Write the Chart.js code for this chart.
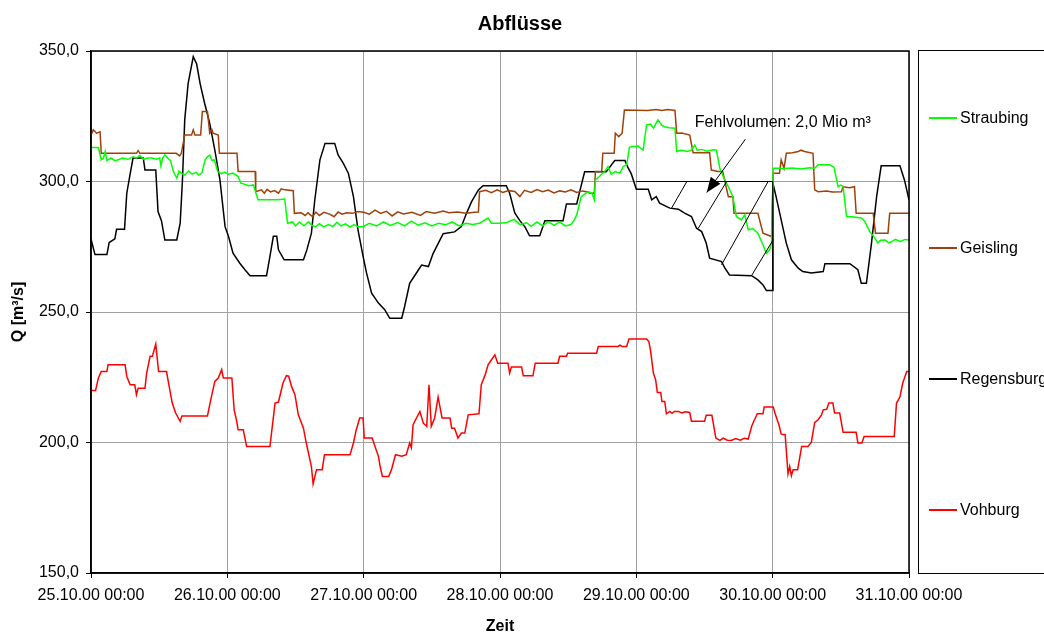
<!DOCTYPE html>
<html>
<head>
<meta charset="utf-8">
<style>
  body { margin: 0; background: #fff; }
  canvas { display: block; }
</style>
</head>
<body>
<canvas id="chart" width="1044" height="633"></canvas>

<script src="https://cdn.jsdelivr.net/npm/chart.js@4.4.0/dist/chart.umd.min.js"></script>
<script>
  // tick labels of the time axis, one per day (hours since 25.10.00 00:00)
  const dayLabels = ['25.10.00 00:00', '26.10.00 00:00', '27.10.00 00:00', '28.10.00 00:00',
    '29.10.00 00:00', '30.10.00 00:00', '31.10.00 00:00']

  const seriesNames = ['Straubing', 'Geisling', 'Regensburg', 'Vohburg']
  const seriesColors = ['#00ff00', '#a0400a', '#000000', '#ff0000']

  // [hour, Q in m³/s]
  const straubing = [[0,313],[1.3,313],[1.8,308.3],[2.2,309],[2.5,311.5],[2.8,308],[3.5,309],[4.2,308],[4.8,308.3],
    [5.5,309],[6.5,308.5],[7.4,309.5],[8,309],[8.6,310],[9.3,308.5],[10,309],[10.7,309],[11.5,308.5],[12.1,309],
    [12.3,306],[12.6,309],[13,310.2],[13.5,309],[14,308],[14.5,303.8],[15.1,301.3],[15.5,304],[15.9,303.2],
    [16.5,302.5],[17.2,304],[17.8,302.8],[18.5,303.5],[19,302.5],[19.5,303.2],[20.1,308.3],[20.5,309.5],
    [20.9,310.2],[21.3,308],[21.7,308.3],[22.3,303.8],[23,303],[23.5,303.6],[24.2,302.8],[25,303.2],[25.5,302.5],
    [25.9,301.9],[26.4,299.3],[27,299],[27.8,298.4],[28.6,298.7],[29,295.8],[29.4,293],[32.9,293],[34.1,293.3],
    [34.6,284],[35.5,284.5],[36,283],[36.7,284.5],[37.5,283],[38.3,284.6],[38.8,283.4],[39.5,282.6],[40.2,283.8],
    [41,282.6],[41.8,283.5],[42.6,282.8],[43.3,284.4],[44,283],[44.8,283.8],[45.6,282.5],[46.3,283.5],[47,282.7],
    [47.9,282.7],[49,284],[50.3,283],[51.5,284.5],[52.7,283.2],[54,284.3],[55.2,283],[56.4,284.8],[57.6,283.3],
    [58.8,284.2],[60,283],[61.2,284],[62.4,283.4],[63.6,284.5],[64.8,283],[66,284],[67.2,283.5],[68.4,284],
    [69.9,286],[70.5,284],[72,284],[73.2,284.3],[74.5,285.5],[75.5,283.5],[76.7,284.2],[77.5,282.8],[78.5,284.5],
    [79.5,283],[80.5,284.6],[81.5,283.2],[82.5,284.5],[83.5,283],[84.5,283.5],[85,285],[85.5,287.2],[86.3,294.2],
    [87.5,296.1],[88.2,295.5],[88.6,293],[88.8,300.6],[89.5,301.9],[90.4,303.8],[91,305.7],[91.6,302.7],
    [92.3,303.8],[93.1,303.2],[93.7,305.7],[94.3,306.4],[94.8,313.2],[95.5,313.4],[96.3,313.6],[97.2,312],
    [97.8,321.7],[98.5,322],[99,320.5],[99.8,323.6],[100.5,321.5],[101,321],[101.8,320.6],[102.8,320.4],
    [103.1,311.5],[104,312],[105,311.5],[105.7,312.1],[106.3,314],[106.7,312],[107.5,312.3],[108.5,311.6],
    [109.5,312.2],[110.1,312],[110.7,305.1],[111.3,301.9],[112.2,298],[113,294.2],[113.6,286.6],[114.5,285.3],
    [115.1,287.2],[115.7,281.5],[116.5,282],[117.4,280.2],[118.3,275.7],[118.9,272.5],[119.5,274],[119.8,276.4],
    [120.1,305.1],[121,305.1],[122,305],[123.5,305.2],[125,304.8],[126.5,305.3],[127.4,305.1],[128,306.4],
    [130,306.4],[130.8,305.5],[131.5,298],[132,298.6],[132.4,298.2],[133,286.6],[134,286.5],[135.6,286],
    [136.2,284.8],[137.1,280.8],[138,278.3],[138.5,276.4],[139,277.5],[139.8,277.6],[140.4,276.5],[140.9,276.9],
    [141.6,277.8],[142.5,277],[143.3,277.8],[144,277.6]]

  const geisling = [[0,317.8],[0.4,319.8],[1,318.5],[1.6,319],[1.8,310.8],[8,310.8],[8.3,311.8],[8.6,310.8],
    [15,310.8],[15.6,309.8],[15.9,310.8],[16.5,317.8],[17.7,317.8],[18,319.8],[18.3,317.8],[19.3,317.8],
    [19.6,326.8],[20.5,326.8],[20.9,318.5],[21.3,319.8],[21.5,318.5],[22.4,317.8],[22.6,310.8],[25.7,310.8],
    [25.9,303.8],[28.9,303.8],[29,296.1],[30,296.8],[30.5,295.5],[31,297],[31.6,296],[32.3,296.5],[33,295.5],
    [33.5,297.2],[34.1,296.8],[35.6,296.5],[35.8,287.8],[37,288],[37.7,287],[38.2,288],[39,286.5],[39.6,288.3],
    [40.2,287],[41,288.2],[42,287.5],[42.8,286.5],[43.5,288.3],[44.2,287.5],[45,288],[46,287.8],[47,288.5],
    [48,288.2],[49,287.5],[50,289],[51,287.8],[52,288.6],[53,286.8],[54,288.4],[55,287.6],[56.5,288.2],[58,287],
    [59,288.5],[60.5,287.8],[62,288.7],[63,288],[64.5,288.3],[66,287.8],[67.5,288.2],[68.2,288.3],[68.4,296.1],
    [69.5,296.6],[70.5,295.7],[71.5,296.8],[72.5,295.8],[73.5,296.5],[74.6,296.2],[75.5,294.2],[76.3,296.6],
    [77.5,295.8],[78.5,296.9],[79.5,296.1],[80.5,296.7],[81.5,295.6],[82.5,296.4],[83.5,296],[84.5,296.8],
    [85.5,295.8],[86.5,296.4],[87.5,296],[87.8,295.5],[88.6,295.5],[88.8,303.8],[89.9,303.8],[90.1,310.8],
    [92.1,310.8],[92.3,318.5],[92.9,317.2],[93.5,318.5],[93.9,327.4],[96,327.3],[98,327.2],[99.5,327.6],
    [100.5,327.2],[101.5,327.6],[102.8,327.2],[103.1,318.5],[104,318.6],[105.4,317.8],[106,311],[108.9,311],
    [109.2,304.4],[110.4,303.8],[111.2,303.8],[112.2,294.2],[113,294.2],[113.2,287.8],[117.4,287.8],
    [118.3,280.2],[119.8,278.9],[120.1,303.2],[121.2,303.2],[121.5,308.3],[122,305],[122.4,310.8],[123.5,311],
    [124.5,311.5],[125,312],[125.6,311.5],[127.1,310.8],[127.4,296.8],[128,296.1],[129.5,296.4],[130.5,296],
    [132.1,296.1],[132.4,298],[133.5,297.6],[134.4,298],[134.7,287.8],[137.7,287.8],[138.1,280.2],[140.3,280.2],
    [140.6,287.8],[144,287.8]]

  const regensburg = [[0,278],[0.7,272],[2.8,272],[3.2,276.6],[4.2,278],[4.5,281.7],[5.9,281.7],[6.3,295.5],
    [6.9,303],[7.4,309],[9.2,309],[9.5,304.4],[11.4,304.4],[11.8,288.5],[12.4,285],[13,277.6],[15.1,277.6],
    [15.7,284],[16.1,300.6],[16.5,323.6],[17.1,337.6],[18,347.8],[18.6,345],[19.2,337.6],[20,330],[20.9,322.3],
    [21.8,312],[22.7,300.6],[23.6,282.7],[24.2,279],[25,272.5],[26.2,268.7],[27.1,266.2],[28,263.9],[30.9,263.9],
    [31.5,271.3],[32.1,279],[32.7,279],[33,273.8],[34,270],[37.4,270],[38,273.8],[38.8,280.2],[39.4,293],
    [40.3,308.3],[41.2,314.6],[42.9,314.6],[43.5,310.2],[44.4,307],[45.3,303.2],[46.2,294.2],[47,281.5],
    [47.9,271.3],[48.5,265],[49.4,257.2],[50.6,253.4],[51.7,250.9],[52.6,247.6],[54.7,247.6],[55.2,252],
    [56.1,261],[57.6,266],[58.2,268],[59.4,267.4],[60.2,272.3],[61.1,276.2],[62,280],[64,280.7],[65.2,282.7],
    [66.1,287.8],[67,292.3],[68.2,296.8],[69,298.4],[73.1,298.4],[73.7,295.5],[74.6,288],[75.5,285],
    [76.4,282.6],[77.2,279.2],[79,279.2],[79.9,285],[83.1,285],[83.7,291.4],[85.5,291.4],[86.3,298.5],
    [86.9,303.7],[90.7,303.7],[92.2,308],[94,308],[94.6,305],[95.1,303],[96,297],[98.1,297],[98.7,293],
    [99.5,294.2],[100.1,291.7],[101.9,289.8],[103.4,289.4],[104.5,287.9],[105.7,286.6],[106.6,282.1],
    [107.5,280.8],[108.3,276.4],[108.9,270.6],[111,269.3],[111.6,266.8],[112.4,264.2],[116.3,263.9],
    [117.4,262.3],[118.3,260.4],[118.9,258.2],[119.9,258.2],[120.05,299.3],[120.6,294.2],[121.5,285.3],
    [122.4,276.4],[123.3,270],[124.5,266.8],[125.3,265.5],[126.8,264.9],[128.9,265.5],[129.2,268.5],
    [133.6,268.5],[135,266.2],[135.6,261],[136.5,261],[137.4,276.4],[138.3,294.2],[139.1,306],[142.4,306],
    [143.2,300.6],[144,293]]

  const vohburg = [[0,219.9],[0.8,219.9],[1.3,224.7],[1.8,227.2],[2.8,227.2],[3,229.8],[6,229.8],[6.3,225.3],
    [6.9,222.1],[7.7,222.1],[8,218.3],[8.3,220.8],[9.5,220.8],[9.8,226.6],[10.4,233],[10.8,233],[11.4,237.7],
    [11.9,227.2],[13.3,227.2],[13.6,223.4],[14.3,215.1],[14.9,211.3],[15.7,208.1],[16,210.2],[20.5,210.2],
    [21.2,217.6],[21.8,223.4],[22.4,224.7],[23,227.9],[23.3,224.7],[24.8,224.7],[25.2,212.5],[25.6,208.7],
    [25.9,204.9],[26.8,204.9],[27.4,198.5],[31.5,198.5],[32.4,215.1],[33,215.5],[33.8,222.8],[34.4,225.6],
    [34.8,225.4],[35.3,221.5],[35.9,218.3],[36.5,210.6],[37.4,205.5],[37.9,199.8],[38.8,190.8],[39.1,184.1],
    [39.7,189.6],[40.7,189.6],[41.1,195.3],[45.6,195.3],[46.2,199.8],[46.7,204.9],[47.3,209.4],[47.9,209.4],
    [48.1,201.7],[49.5,201.7],[50,198.5],[50.6,194.7],[50.9,190.8],[51.3,187],[52.4,187],[52.9,189.6],
    [53.6,195.3],[54.7,194.7],[55.5,195.3],[56.1,199.8],[56.4,198],[56.7,206.8],[57.3,209.4],[57.9,211.9],
    [58.5,207.4],[59.1,206.2],[59.5,222.1],[59.9,206.2],[60.5,209.4],[61.1,217.4],[61.8,209.4],[63.2,209.4],
    [63.5,205.5],[64,205.5],[64.6,201.7],[65.2,203.6],[65.8,203.6],[66.4,210.6],[68.3,211],[68.7,222.1],
    [69.4,226],[69.9,229.8],[70.5,231.7],[71.1,233.6],[71.6,230.4],[73.4,230.4],[73.7,226.6],[74,228.9],
    [75.8,228.9],[76.1,225.6],[77.8,225.6],[78.2,230.4],[82.2,230.4],[82.5,233],[83.7,233],[83.9,234.2],
    [89,234.2],[89.3,236.8],[92.8,236.8],[93.1,237.3],[93.5,236.8],[94.3,236.8],[94.7,239.7],[97.8,239.7],
    [98.2,238.7],[98.5,235.3],[99,226.6],[99.4,224],[99.7,219.2],[100.3,219.2],[100.5,215.7],[101,215.7],
    [101.3,211],[101.9,211.9],[102.3,211.2],[102.7,211.9],[103.4,211.9],[104,211.3],[104.6,211.8],[105.4,211.5],
    [105.7,208.1],[108,208.1],[108.3,210.4],[109.3,210.4],[110,201.7],[110.7,200.8],[111.3,201.7],[112,200.9],
    [112.7,200.8],[113.5,201.5],[114.3,200.9],[115,201.6],[115.7,201.3],[116.3,206.2],[116.8,208.7],[117.3,211],
    [118.3,211],[118.5,213.6],[120.1,213.6],[120.5,210.6],[121.1,206.8],[121.5,203.2],[122.2,203],[122.7,188],
    [123,190.8],[123.3,187.3],[123.6,189.6],[124.4,189.6],[125.1,198.5],[126.2,198.5],[126.8,200],[127.4,207.7],
    [128,208.7],[128.6,210.6],[128.9,212.5],[129.5,212.7],[129.9,215.1],[130.6,215.1],[130.9,211.3],
    [131.8,211.3],[132.4,203.9],[134.7,203.9],[135,199.8],[135.7,199.8],[136.1,202.3],[141.4,202.3],
    [141.8,215.1],[142.4,217.4],[142.9,222.8],[143.6,227.2],[144,227.2]]

  const allSeries = [straubing, geisling, regensburg, vohburg]

  Chart.defaults.font.family = "'Liberation Sans', Arial, sans-serif"
  Chart.defaults.font.size = 16
  Chart.defaults.color = '#000'

  // frame, title, legend box and the "Fehlvolumen" annotation
  const extras = {
    id: 'extras',
    afterDatasetsDraw(chart) {
      const ctx = chart.ctx
      const x = chart.scales.x
      const y = chart.scales.y
      const px = h => x.getPixelForValue(h)
      const py = v => y.getPixelForValue(v)

      ctx.save()
      ctx.strokeStyle = '#000'
      ctx.lineWidth = 1
      ctx.beginPath()
      ctx.moveTo(px(96), py(300))
      ctx.lineTo(px(120), py(300))
      ctx.lineTo(px(120), py(258.2))
      const hatch = [[102.2, 289.8, 104.9, 300], [106.9, 282.1, 111.9, 300],
        [111, 268.1, 119.2, 300], [116.3, 264, 120.1, 277.7]]
      hatch.forEach(l => {
        ctx.moveTo(px(l[0]), py(l[1]))
        ctx.lineTo(px(l[2]), py(l[3]))
      })
      // arrow shaft
      const ax0 = px(115.2), ay0 = py(316.2), ax1 = px(108.4), ay1 = py(295.8)
      ctx.moveTo(ax0, ay0)
      ctx.lineTo(ax1, ay1)
      ctx.stroke()
      const ang = Math.atan2(ay1 - ay0, ax1 - ax0)
      ctx.fillStyle = '#000'
      ctx.beginPath()
      ctx.moveTo(ax1, ay1)
      ctx.lineTo(ax1 - 15 * Math.cos(ang) + 6 * Math.sin(ang), ay1 - 15 * Math.sin(ang) - 6 * Math.cos(ang))
      ctx.lineTo(ax1 - 15 * Math.cos(ang) - 6 * Math.sin(ang), ay1 - 15 * Math.sin(ang) + 6 * Math.cos(ang))
      ctx.closePath()
      ctx.fill()

      ctx.font = "16px 'Liberation Sans', Arial, sans-serif"
      ctx.textAlign = 'left'
      ctx.textBaseline = 'middle'
      ctx.fillText('Fehlvolumen: 2,0 Mio m³', px(106.3), py(322.4))
      ctx.restore()
    },
    afterDraw(chart) {
      const ctx = chart.ctx
      const area = chart.chartArea
      ctx.save()
      ctx.strokeStyle = '#000'
      ctx.lineWidth = 1.5
      ctx.strokeRect(area.left, area.top, area.right - area.left, area.bottom - area.top)

      ctx.font = "bold 20px 'Liberation Sans', Arial, sans-serif"
      ctx.textAlign = 'center'
      ctx.textBaseline = 'middle'
      ctx.fillStyle = '#000'
      ctx.fillText('Abflüsse', 520, 24)

      // legend
      ctx.lineWidth = 1
      ctx.strokeRect(918.5, 50.5, 200, 523)
      ctx.font = "16px 'Liberation Sans', Arial, sans-serif"
      ctx.textAlign = 'left'
      const rows = [118, 248, 379, 510]
      chart.data.datasets.forEach((ds, i) => {
        ctx.strokeStyle = ds.borderColor
        ctx.lineWidth = 2
        ctx.beginPath()
        ctx.moveTo(929, rows[i])
        ctx.lineTo(957, rows[i])
        ctx.stroke()
        ctx.fillText(ds.label, 960, rows[i] + 1)
      })
      ctx.restore()
    }
  }

  const ctx = document.getElementById('chart').getContext('2d')
  new Chart(ctx, {
    type: 'line',
    data: {
      datasets: allSeries.map((s, i) => ({
        label: seriesNames[i],
        data: s.map(p => ({ x: p[0], y: p[1] })),
        borderColor: seriesColors[i],
        borderWidth: 1.5,
        pointRadius: 0,
        tension: 0,
        fill: false
      }))
    },
    options: {
      responsive: false,
      animation: false,
      layout: { padding: { top: 51, right: 135, bottom: 0, left: 0 } },
      plugins: {
        legend: { display: false },
        tooltip: { enabled: false }
      },
      scales: {
        x: {
          type: 'linear',
          min: 0,
          max: 144,
          afterFit: s => { s.height = 60 },
          afterBuildTicks: s => { s.ticks = dayLabels.map((d, i) => ({ value: i * 24 })) },
          ticks: {
            autoSkip: false,
            maxRotation: 0,
            padding: 8,
            callback: v => dayLabels[Math.round(v / 24)]
          },
          grid: { color: '#a0a0a0', tickColor: '#000', tickLength: 5 },
          border: { color: '#000', width: 1.5 },
          title: { display: true, text: 'Zeit', font: { weight: 'bold', size: 16 }, padding: { top: 0, bottom: -3 } }
        },
        y: {
          min: 150,
          max: 350,
          afterFit: s => { s.width = 91 },
          ticks: {
            stepSize: 50,
            padding: 7,
            callback: v => v.toFixed(1).replace('.', ',')
          },
          grid: { color: '#a0a0a0', tickColor: '#000', tickLength: 5 },
          border: { color: '#000', width: 1.5 },
          title: { display: true, text: 'Q [m³/s]', font: { weight: 'bold', size: 16 }, padding: { top: 9, bottom: 0 } }
        }
      }
    },
    plugins: [extras]
  })
</script>
</body>
</html>
